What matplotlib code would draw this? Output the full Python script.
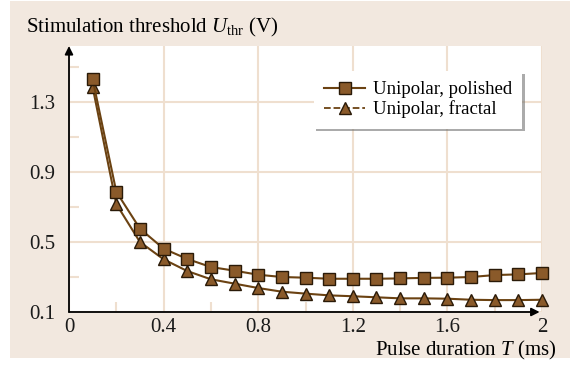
import matplotlib.pyplot as plt
from matplotlib.lines import Line2D
from matplotlib.patches import Rectangle
from matplotlib.ticker import MultipleLocator

plt.rcParams['font.family'] = 'Liberation Serif'
plt.rcParams['mathtext.fontset'] = 'custom'
plt.rcParams['mathtext.rm'] = 'Liberation Serif'
plt.rcParams['mathtext.it'] = 'Liberation Serif:italic'

# data
pulse_ms = [0.1, 0.2, 0.3, 0.4, 0.5, 0.6, 0.7, 0.8, 0.9, 1.0,
            1.1, 1.2, 1.3, 1.4, 1.5, 1.6, 1.7, 1.8, 1.9, 2.0]
polished = [1.43, 0.787, 0.576, 0.462, 0.403, 0.357, 0.336, 0.313, 0.300, 0.296,
            0.290, 0.290, 0.290, 0.292, 0.295, 0.296, 0.300, 0.311, 0.315, 0.323]
fractal = [1.385, 0.717, 0.500, 0.401, 0.334, 0.287, 0.262, 0.237, 0.216, 0.205,
           0.195, 0.190, 0.184, 0.178, 0.178, 0.176, 0.170, 0.168, 0.168, 0.170]
labels = ['Unipolar, polished', 'Unipolar, fractal']

beige = '#f2e8df'
grid_c = '#efdfcf'
line_c = '#6b4212'
face_c = '#8a5a2a'
edge_c = '#2a1a08'

fig = plt.figure(figsize=(5.7, 3.67), dpi=100)
fig.patch.set_facecolor('white')
fig.patches.append(Rectangle((10 / 570, 1 - 358 / 367), 560 / 570, 357 / 367,
                             transform=fig.transFigure, facecolor=beige,
                             edgecolor='none', zorder=-10))

ax = fig.add_axes([69 / 570, 1 - 312 / 367, 473 / 570, 266 / 367])
ax.set_facecolor('white')
ax.set_xlim(0, 2.0)
ax.set_ylim(0.1, 1.62)

ax.plot(pulse_ms, polished, color=line_c, lw=1.5, marker='s', ms=8.5,
        mfc=face_c, mec=edge_c, mew=1.0, clip_on=False, zorder=4)
ax.plot(pulse_ms, fractal, color=line_c, lw=1.5, marker='^', ms=8.5,
        mfc=face_c, mec=edge_c, mew=1.0, clip_on=False, zorder=3)

ax.set_yticks([0.1, 0.5, 0.9, 1.3])
ax.set_yticks([0.3, 0.7, 1.1, 1.5], minor=True)
ax.set_xticks([0, 0.4, 0.8, 1.2, 1.6, 2.0])
ax.set_xticks([0.2, 0.6, 1.0, 1.4, 1.8], minor=True)
ax.set_xticklabels(['0', '0.4', '0.8', '1.2', '1.6', '2'])
ax.grid(True, which='major', color=grid_c, lw=1.5, zorder=0)
ax.tick_params(which='both', direction='in', labelsize=15, colors=grid_c,
               labelcolor='#1a1a1a', length=0)
ax.tick_params(which='minor', length=7, width=1.5)
ax.tick_params(axis='y', pad=10)
ax.tick_params(axis='x', pad=4)

for s in ['top', 'right', 'left', 'bottom']:
    ax.spines[s].set_visible(False)

# axis arrows
ax.annotate('', xy=(0, 1.0), xytext=(0, 0), xycoords='axes fraction',
            arrowprops=dict(arrowstyle='-|>', color='black', lw=1.3,
                            mutation_scale=12, shrinkA=0, shrinkB=0), zorder=5)
ax.annotate('', xy=(0.995, 0), xytext=(0, 0), xycoords='axes fraction',
            arrowprops=dict(arrowstyle='-|>', color='black', lw=1.3,
                            mutation_scale=12, shrinkA=0, shrinkB=0), zorder=5)

fig.text(26 / 570, 1 - 27 / 367, r'Stimulation threshold $U_{\rm thr}$ (V)',
         fontsize=15, ha='left', va='center')
fig.text(556 / 570, 1 - 350 / 367, r'Pulse duration $T$ (ms)',
         fontsize=15, ha='right', va='center')

handles = [
    Line2D([], [], color=line_c, lw=1.5, marker='s', ms=8, mfc=face_c, mec=edge_c),
    Line2D([], [], color=line_c, lw=1.3, ls='--', marker='^', ms=8, mfc=face_c, mec=edge_c),
]
leg = ax.legend(handles, labels, loc='upper right', bbox_to_anchor=(0.958, 0.906),
                fontsize=13.5, frameon=True, fancybox=False,
                shadow={'color': '0.45', 'alpha': 0.6},
                handlelength=2.2, handletextpad=0.4, borderpad=0.55,
                labelspacing=0.1, framealpha=1, borderaxespad=0)
leg.get_frame().set_edgecolor('white')
leg.get_frame().set_linewidth(0)

fig.savefig('out.png', dpi=100)
